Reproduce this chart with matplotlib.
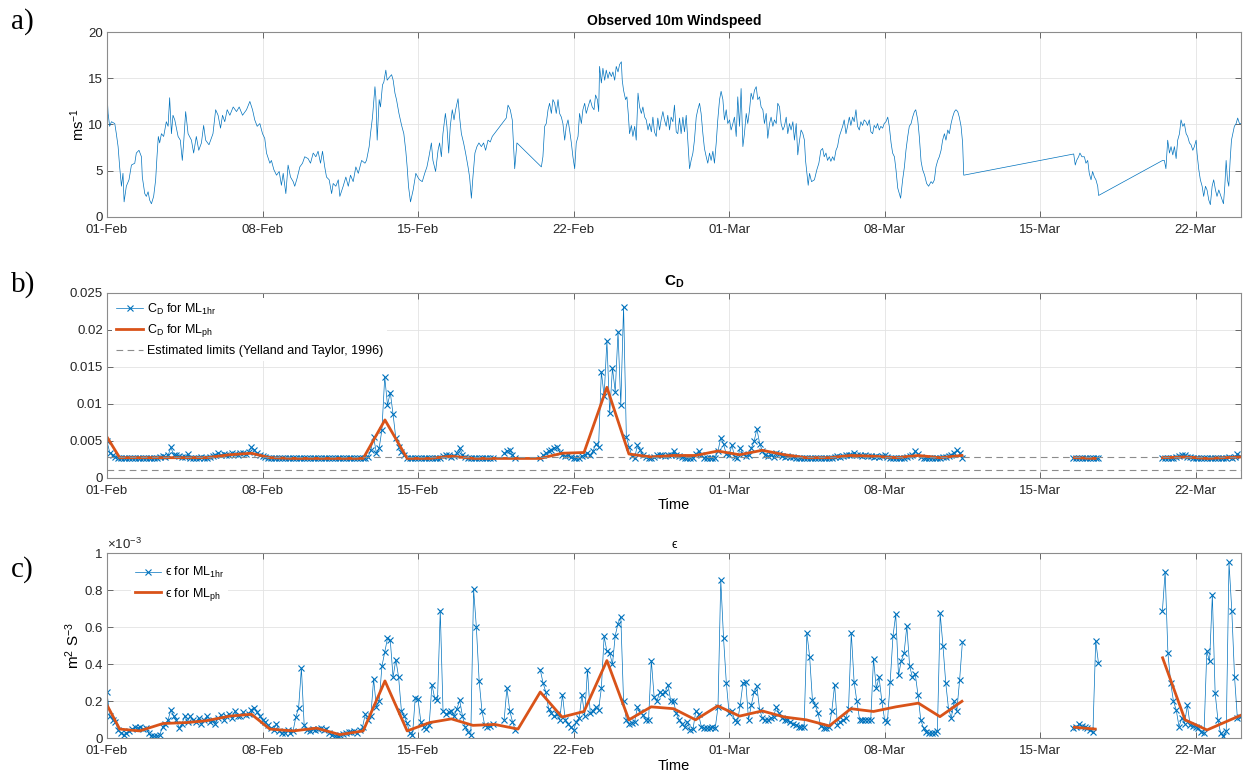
import numpy as np
import matplotlib.pyplot as plt
from matplotlib.ticker import FuncFormatter

plt.rcParams['font.family'] = ['Liberation Sans', 'DejaVu Sans']
plt.rcParams['mathtext.fontset'] = 'custom'
plt.rcParams['mathtext.rm'] = 'Liberation Sans'
plt.rcParams['mathtext.it'] = 'Liberation Sans:italic'
plt.rcParams['mathtext.bf'] = 'Liberation Sans:bold'

# x axis is days since 01-Feb
tick_days = [0, 7, 14, 21, 28, 35, 42, 49]
tick_names = ['01-Feb', '08-Feb', '15-Feb', '22-Feb', '01-Mar', '08-Mar', '15-Mar', '22-Mar']

# observed 10 m windspeed (m/s)
ws_day = [0.00, 0.05, 0.12, 0.20, 0.35, 0.42, 0.50, 0.57, 0.65, 0.72, 0.77, 0.87, 0.99, 1.10, 1.25, 1.32, 1.44, 1.55, 1.59, 1.70,
          1.77, 1.85, 1.92, 2.00, 2.10, 2.19, 2.25, 2.31, 2.37, 2.45, 2.55, 2.67, 2.75, 2.82, 2.90, 2.97, 3.05, 3.20, 3.30, 3.39,
          3.45, 3.54, 3.65, 3.80, 3.90, 4.02, 4.13, 4.25, 4.35, 4.44, 4.59, 4.77, 4.89, 5.00, 5.11, 5.20, 5.30, 5.41, 5.53, 5.68,
          5.83, 5.95, 6.10, 6.28, 6.43, 6.55, 6.65, 6.76, 6.88, 7.00, 7.10, 7.18, 7.33, 7.40, 7.51, 7.63, 7.75, 7.85, 7.93, 8.05,
          8.15, 8.26, 8.38, 8.45, 8.56, 8.68, 8.80, 8.90, 9.05, 9.16, 9.28, 9.40, 9.50, 9.61, 9.70, 9.80, 9.88, 10.00, 10.11, 10.18,
          10.30, 10.41, 10.48, 10.63, 10.75, 10.86, 10.96, 11.08, 11.20, 11.31, 11.46, 11.61, 11.68, 11.80, 11.86, 11.95, 12.06, 12.10, 12.16, 12.25,
          12.31, 12.40, 12.46, 12.55, 12.61, 12.70, 12.81, 12.88, 12.96, 13.03, 13.14, 13.26, 13.36, 13.45, 13.51, 13.57, 13.66, 13.78, 13.90, 14.01,
          14.07, 14.19, 14.30, 14.40, 14.49, 14.60, 14.67, 14.79, 14.90, 14.97, 15.05, 15.12, 15.23, 15.30, 15.38, 15.45, 15.54, 15.62, 15.69, 15.80,
          15.87, 15.95, 16.05, 16.14, 16.25, 16.32, 16.40, 16.47, 16.56, 16.65, 16.74, 16.85, 16.95, 17.04, 17.15, 17.25, 17.34, 17.97, 18.05, 18.15,
          18.24, 18.35, 18.45, 19.55, 19.62, 19.70, 19.77, 19.85, 19.92, 20.00, 20.07, 20.15, 20.22, 20.30, 20.37, 20.45, 20.52, 20.60, 20.67, 20.75,
          20.82, 20.90, 20.97, 21.05, 21.12, 21.20, 21.27, 21.35, 21.42, 21.50, 21.57, 21.65, 21.75, 21.84, 21.92, 21.99, 22.07, 22.13, 22.17, 22.25,
          22.32, 22.40, 22.47, 22.55, 22.62, 22.70, 22.77, 22.85, 22.92, 23.00, 23.07, 23.15, 23.19, 23.25, 23.34, 23.40, 23.46, 23.52, 23.60, 23.67,
          23.75, 23.82, 23.90, 23.97, 24.05, 24.12, 24.20, 24.27, 24.35, 24.42, 24.50, 24.57, 24.64, 24.72, 24.79, 24.87, 24.94, 25.02, 25.09, 25.17,
          25.24, 25.32, 25.39, 25.47, 25.54, 25.62, 25.69, 25.77, 25.84, 25.92, 25.99, 26.07, 26.14, 26.22, 26.29, 26.37, 26.44, 26.52, 26.59, 26.67,
          26.74, 26.82, 26.89, 26.97, 27.04, 27.12, 27.19, 27.27, 27.34, 27.42, 27.49, 27.57, 27.64, 27.72, 27.79, 27.87, 27.94, 28.02, 28.09, 28.17,
          28.24, 28.32, 28.39, 28.47, 28.54, 28.62, 28.69, 28.77, 28.84, 28.92, 28.99, 29.07, 29.14, 29.22, 29.29, 29.37, 29.44, 29.52, 29.59, 29.67,
          29.74, 29.82, 29.89, 29.97, 30.04, 30.12, 30.19, 30.27, 30.34, 30.42, 30.49, 30.57, 30.64, 30.72, 30.79, 30.87, 30.94, 31.02, 31.09, 31.17,
          31.24, 31.32, 31.39, 31.44, 31.50, 31.56, 31.62, 31.71, 31.84, 31.95, 32.04, 32.13, 32.21, 32.28, 32.36, 32.43, 32.51, 32.58, 32.66, 32.73,
          32.81, 32.88, 32.96, 33.03, 33.11, 33.18, 33.26, 33.33, 33.41, 33.48, 33.56, 33.63, 33.71, 33.78, 33.86, 33.93, 34.01, 34.08, 34.16, 34.23,
          34.31, 34.38, 34.46, 34.53, 34.61, 34.68, 34.76, 34.83, 34.91, 34.98, 35.06, 35.14, 35.21, 35.29, 35.36, 35.44, 35.51, 35.59, 35.66, 35.72,
          35.81, 35.89, 35.96, 36.04, 36.11, 36.19, 36.26, 36.34, 36.40, 36.49, 36.56, 36.64, 36.71, 36.80, 36.89, 36.98, 37.09, 37.16, 37.24, 37.31,
          37.39, 37.46, 37.54, 37.61, 37.69, 37.76, 37.84, 37.91, 37.99, 38.06, 38.14, 38.21, 38.29, 38.36, 38.44, 38.51, 38.56, 43.51, 43.58, 43.64,
          43.73, 43.79, 43.88, 43.99, 44.06, 44.14, 44.21, 44.29, 44.36, 44.44, 44.51, 44.59, 44.63, 47.51, 47.59, 47.66, 47.74, 47.82, 47.89, 47.97,
          48.04, 48.12, 48.19, 48.27, 48.34, 48.42, 48.49, 48.57, 48.64, 48.72, 48.79, 48.87, 48.94, 49.02, 49.06, 49.14, 49.21, 49.29, 49.36, 49.44,
          49.51, 49.59, 49.66, 49.74, 49.81, 49.89, 49.96, 50.04, 50.11, 50.19, 50.25, 50.31, 50.37, 50.43, 50.49, 50.55, 50.61, 50.67, 50.74, 50.82,
          50.89, 50.97, 51.04]
ws_speed = [13.4, 11.2, 9.8, 10.3, 10.1, 9.0, 7.6, 5.4, 3.3, 4.7, 1.6, 3.3, 4.0, 5.6, 5.8, 6.9, 7.2, 6.5, 4.3, 2.5,
            2.2, 2.7, 1.8, 1.4, 2.2, 4.0, 6.5, 8.7, 8.0, 9.0, 8.7, 10.3, 9.8, 12.9, 9.0, 11.0, 10.5, 8.7, 8.3, 6.1,
            8.0, 11.4, 9.0, 8.3, 6.9, 8.7, 7.2, 8.0, 9.9, 8.3, 7.8, 9.0, 11.6, 11.0, 9.6, 11.0, 10.3, 11.6, 11.0, 11.9,
            11.4, 11.9, 11.0, 11.6, 12.5, 11.6, 10.5, 9.8, 10.1, 9.0, 8.5, 6.9, 5.8, 6.1, 5.1, 4.5, 4.9, 3.4, 4.7, 2.5,
            5.6, 4.3, 3.8, 3.3, 4.2, 5.4, 5.8, 6.5, 6.3, 5.8, 6.9, 6.5, 7.1, 5.8, 7.1, 5.4, 4.3, 4.0, 2.5, 3.6,
            3.3, 4.0, 2.2, 3.3, 4.3, 3.3, 4.5, 3.8, 5.4, 4.7, 6.1, 5.8, 6.1, 7.6, 9.0, 10.8, 14.1, 13.0, 8.3, 12.7,
            11.9, 14.3, 14.6, 15.9, 14.8, 15.1, 15.4, 14.8, 13.4, 12.7, 11.2, 9.9, 9.0, 7.1, 5.4, 3.3, 1.6, 2.9, 4.7, 4.2,
            4.0, 3.8, 4.7, 5.4, 6.5, 8.0, 6.1, 4.9, 7.2, 8.0, 6.5, 9.0, 11.2, 9.8, 6.9, 9.8, 11.6, 10.5, 11.6, 12.8,
            10.8, 9.0, 8.0, 6.9, 5.4, 4.3, 2.0, 4.3, 6.9, 7.6, 8.0, 7.6, 8.0, 7.2, 8.3, 8.1, 8.7, 10.7, 12.1, 11.6,
            10.5, 5.2, 8.0, 5.4, 6.5, 9.8, 10.1, 11.6, 12.3, 11.2, 12.7, 12.3, 11.2, 12.7, 11.2, 10.8, 10.1, 8.3, 9.8, 10.5,
            9.4, 8.0, 6.5, 5.2, 8.0, 8.7, 11.2, 10.1, 11.6, 12.3, 11.2, 11.9, 12.7, 11.9, 11.6, 13.2, 12.7, 11.4, 16.3, 14.5,
            16.1, 14.8, 15.9, 15.0, 15.7, 15.2, 15.7, 14.8, 16.3, 15.7, 16.5, 16.8, 14.8, 13.7, 12.7, 13.0, 11.2, 9.0, 9.9, 8.7,
            9.8, 8.3, 13.4, 11.9, 11.2, 11.9, 10.8, 10.5, 9.4, 10.1, 9.2, 10.8, 9.2, 8.7, 10.7, 9.4, 10.5, 11.4, 10.5, 9.8,
            11.0, 9.4, 10.8, 10.3, 12.1, 9.2, 9.0, 10.7, 9.0, 10.8, 9.2, 11.0, 8.3, 5.2, 6.1, 6.9, 8.3, 10.8, 11.6, 12.3,
            11.2, 9.0, 7.4, 6.5, 5.8, 6.9, 6.1, 7.1, 5.8, 8.0, 10.5, 12.7, 13.6, 12.7, 10.5, 11.6, 10.1, 10.5, 9.4, 10.1,
            10.8, 8.7, 13.0, 9.8, 13.9, 7.6, 9.0, 11.2, 10.1, 11.6, 13.4, 12.7, 13.7, 14.1, 12.7, 13.0, 11.9, 11.6, 10.1, 11.2,
            8.5, 10.1, 10.8, 9.8, 10.5, 10.1, 12.3, 11.9, 10.1, 9.4, 9.8, 10.8, 9.0, 10.1, 9.4, 10.3, 8.3, 10.1, 6.7, 8.3,
            9.4, 9.0, 8.3, 6.1, 4.7, 3.4, 4.7, 3.8, 4.0, 5.1, 5.8, 7.2, 7.4, 6.5, 6.9, 6.1, 6.5, 6.0, 6.5, 6.1,
            7.2, 7.6, 8.7, 9.2, 9.8, 10.5, 9.0, 9.8, 10.8, 9.9, 10.8, 10.3, 11.6, 9.8, 9.4, 10.3, 9.9, 10.5, 10.3, 9.9,
            10.5, 9.2, 9.0, 9.9, 9.6, 10.1, 9.4, 9.8, 9.6, 10.1, 10.3, 10.8, 9.8, 8.0, 6.9, 6.5, 5.1, 3.1, 2.5, 2.0,
            4.0, 5.4, 7.2, 8.7, 9.8, 10.1, 10.8, 11.4, 11.6, 10.5, 8.7, 6.0, 5.1, 4.5, 3.6, 3.3, 3.8, 3.6, 4.0, 5.4,
            6.1, 6.5, 7.2, 8.3, 9.0, 8.3, 9.4, 9.0, 10.1, 10.8, 11.4, 11.6, 11.4, 10.8, 9.8, 8.0, 4.5, 6.8, 5.6, 6.1,
            6.5, 6.9, 6.5, 6.5, 5.8, 6.1, 4.7, 4.0, 4.9, 4.3, 4.0, 3.3, 2.3, 6.1, 6.1, 5.2, 8.3, 6.9, 7.6, 6.7,
            7.6, 6.3, 8.3, 9.0, 10.5, 9.8, 10.1, 9.0, 8.7, 8.0, 7.8, 7.2, 7.6, 8.3, 6.9, 5.1, 4.0, 3.3, 2.2, 3.3,
            2.9, 1.8, 1.3, 3.3, 4.0, 2.9, 2.2, 2.9, 2.4, 1.8, 1.4, 3.3, 6.1, 4.0, 3.3, 6.1, 8.3, 9.0, 9.8, 10.1,
            10.7, 10.1, 10.1]

# 1-hourly-ML products, read every 3 h; one list per block of available data
block_start = [0.0, 17.875, 19.5, 43.5, 47.5]
cd_1hr = [
    [0.0049, 0.0034, 0.0030, 0.0028, 0.0027, 0.0027, 0.0026, 0.0027,
     0.0027, 0.0026, 0.0027, 0.0027, 0.0026, 0.0027, 0.0027, 0.0026,
     0.0027, 0.0026, 0.0027, 0.0028, 0.0029, 0.0028, 0.0030, 0.0041,
     0.0031, 0.0030, 0.0029, 0.0028, 0.0028, 0.0032, 0.0027, 0.0027,
     0.0027, 0.0027, 0.0028, 0.0027, 0.0027, 0.0028, 0.0029, 0.0030,
     0.0033, 0.0031, 0.0032, 0.0030, 0.0031, 0.0033, 0.0032, 0.0031,
     0.0033, 0.0034, 0.0032, 0.0035, 0.0041, 0.0038, 0.0033, 0.0030,
     0.0029, 0.0028, 0.0027, 0.0027, 0.0027, 0.0026, 0.0027, 0.0027,
     0.0027, 0.0027, 0.0026, 0.0027, 0.0027, 0.0027, 0.0026, 0.0027,
     0.0027, 0.0026, 0.0027, 0.0027, 0.0026, 0.0027, 0.0027, 0.0027,
     0.0026, 0.0027, 0.0027, 0.0026, 0.0027, 0.0027, 0.0027, 0.0026,
     0.0027, 0.0027, 0.0026, 0.0027, 0.0027, 0.0027, 0.0028, 0.0037,
     0.0055, 0.0033, 0.0040, 0.0065, 0.0136, 0.0098, 0.0115, 0.0086,
     0.0053, 0.0042, 0.0035, 0.0031, 0.0027, 0.0027, 0.0026, 0.0027,
     0.0027, 0.0026, 0.0027, 0.0027, 0.0026, 0.0027, 0.0027, 0.0027,
     0.0027, 0.0029, 0.0031, 0.0030, 0.0028, 0.0029, 0.0034, 0.0040,
     0.0031, 0.0028, 0.0027, 0.0026, 0.0027, 0.0027, 0.0026, 0.0027,
     0.0027, 0.0026, 0.0027, 0.0026],
    [0.0033, 0.0036, 0.0038, 0.0031, 0.0027],
    [0.0027, 0.0030, 0.0033, 0.0036,
     0.0038, 0.0040, 0.0042, 0.0035, 0.0031, 0.0029, 0.0030, 0.0028,
     0.0026, 0.0026, 0.0027, 0.0029, 0.0031, 0.0033, 0.0030, 0.0036,
     0.0045, 0.0042, 0.0143, 0.0110, 0.0185, 0.0087, 0.0148, 0.0116,
     0.0197, 0.0098, 0.0231, 0.0055, 0.0042, 0.0029, 0.0027, 0.0044,
     0.0038, 0.0030, 0.0028, 0.0027, 0.0027, 0.0028, 0.0030, 0.0031,
     0.0030, 0.0029, 0.0031, 0.0030, 0.0036, 0.0031, 0.0029, 0.0028,
     0.0027, 0.0027, 0.0026, 0.0027, 0.0032, 0.0036, 0.0030, 0.0027,
     0.0026, 0.0026, 0.0026, 0.0027, 0.0036, 0.0054, 0.0045, 0.0032,
     0.0030, 0.0044, 0.0028, 0.0026, 0.0040, 0.0032, 0.0029, 0.0030,
     0.0040, 0.0049, 0.0066, 0.0046, 0.0036, 0.0031, 0.0029, 0.0030,
     0.0028, 0.0034, 0.0032, 0.0029, 0.0028, 0.0029, 0.0028, 0.0028,
     0.0027, 0.0027, 0.0026, 0.0027, 0.0026, 0.0027, 0.0027, 0.0026,
     0.0027, 0.0027, 0.0026, 0.0027, 0.0026, 0.0027, 0.0028, 0.0029,
     0.0028, 0.0029, 0.0030, 0.0031, 0.0030, 0.0034, 0.0031, 0.0030,
     0.0029, 0.0030, 0.0029, 0.0029, 0.0028, 0.0029, 0.0028, 0.0029,
     0.0030, 0.0028, 0.0027, 0.0026, 0.0026, 0.0026, 0.0027, 0.0027,
     0.0028, 0.0029, 0.0031, 0.0036, 0.0032, 0.0028, 0.0027, 0.0026,
     0.0026, 0.0026, 0.0027, 0.0027, 0.0027, 0.0028, 0.0028, 0.0029,
     0.0030, 0.0034, 0.0037, 0.0033, 0.0027],
    [0.0027, 0.0026, 0.0027, 0.0027, 0.0026, 0.0027, 0.0027, 0.0026, 0.0027, 0.0026],
    [0.0027, 0.0027, 0.0026, 0.0027,
     0.0027, 0.0028, 0.0029, 0.0031, 0.0030, 0.0028, 0.0028, 0.0027,
     0.0027, 0.0026, 0.0027, 0.0026, 0.0027, 0.0026, 0.0027, 0.0026,
     0.0027, 0.0026, 0.0027, 0.0027, 0.0028, 0.0027, 0.0028, 0.0032,
     0.0029],
]
# epsilon in units of 1e-3 m2 s-3
eps_1hr = [
    [0.25, 0.12, 0.10, 0.09, 0.045, 0.03, 0.02, 0.03,
     0.04, 0.05, 0.06, 0.055, 0.063, 0.05, 0.055, 0.03,
     0.015, 0.01, 0.012, 0.02, 0.06, 0.08, 0.10, 0.155,
     0.12, 0.10, 0.055, 0.08, 0.12, 0.09, 0.12, 0.10,
     0.09, 0.11, 0.08, 0.10, 0.12, 0.09, 0.10, 0.08,
     0.11, 0.125, 0.10, 0.12, 0.13, 0.11, 0.145, 0.12,
     0.12, 0.14, 0.125, 0.13, 0.155, 0.165, 0.14, 0.12,
     0.10, 0.09, 0.07, 0.055, 0.045, 0.08, 0.04, 0.03,
     0.03, 0.045, 0.03, 0.04, 0.115, 0.165, 0.38, 0.07,
     0.045, 0.04, 0.05, 0.045, 0.05, 0.055, 0.045, 0.05,
     0.03, 0.02, 0.015, 0.01, 0.02, 0.025, 0.03, 0.035,
     0.035, 0.04, 0.03, 0.045, 0.06, 0.13, 0.10, 0.12,
     0.32, 0.17, 0.20, 0.39, 0.465, 0.54, 0.53, 0.33,
     0.425, 0.33, 0.15, 0.12, 0.085, 0.03, 0.018, 0.22,
     0.21, 0.09, 0.06, 0.05, 0.07, 0.29, 0.216, 0.205,
     0.69, 0.145, 0.13, 0.14, 0.145, 0.12, 0.16, 0.205,
     0.12, 0.06, 0.035, 0.02, 0.805, 0.6, 0.31, 0.15,
     0.07, 0.063, 0.065, 0.075],
    [0.10, 0.27, 0.15, 0.09, 0.045],
    [0.37, 0.30, 0.25, 0.16,
     0.135, 0.12, 0.13, 0.10, 0.235, 0.10, 0.08, 0.06,
     0.045, 0.09, 0.11, 0.235, 0.12, 0.37, 0.135, 0.15,
     0.17, 0.155, 0.27, 0.55, 0.47, 0.46, 0.40, 0.555,
     0.62, 0.657, 0.2, 0.1, 0.08, 0.085, 0.09, 0.17,
     0.14, 0.125, 0.10, 0.10, 0.42, 0.225, 0.2, 0.25,
     0.24, 0.25, 0.29, 0.2, 0.2, 0.135, 0.1, 0.08,
     0.06, 0.09, 0.045, 0.05, 0.145, 0.13, 0.063, 0.055,
     0.055, 0.055, 0.063, 0.055, 0.17, 0.855, 0.54, 0.30,
     0.135, 0.145, 0.10, 0.09, 0.18, 0.30, 0.305, 0.10,
     0.18, 0.25, 0.28, 0.153, 0.11, 0.10, 0.10, 0.11,
     0.117, 0.17, 0.135, 0.11, 0.10, 0.10, 0.09, 0.08,
     0.072, 0.063, 0.06, 0.063, 0.57, 0.44, 0.207, 0.18,
     0.135, 0.065, 0.055, 0.055, 0.06, 0.15, 0.29, 0.07,
     0.09, 0.10, 0.108, 0.16, 0.57, 0.305, 0.2, 0.10,
     0.10, 0.10, 0.10, 0.10, 0.43, 0.27, 0.33, 0.2,
     0.10, 0.09, 0.305, 0.55, 0.67, 0.34, 0.42, 0.46,
     0.607, 0.39, 0.33, 0.35, 0.235, 0.10, 0.055, 0.036,
     0.027, 0.027, 0.030, 0.04, 0.675, 0.5, 0.3, 0.16,
     0.11, 0.2, 0.15, 0.315, 0.52],
    [0.055, 0.060, 0.077, 0.065, 0.060, 0.055, 0.045, 0.035, 0.528, 0.405],
    [0.685, 0.90, 0.46, 0.30,
     0.2, 0.153, 0.063, 0.11, 0.08, 0.18, 0.07, 0.065,
     0.063, 0.055, 0.036, 0.027, 0.47, 0.415, 0.775, 0.245,
     0.10, 0.027, 0.01, 0.04, 0.95, 0.69, 0.33, 0.11,
     0.117],
]

# per-half-tide (ph) results
ph_day = [0.0, 0.57, 1.47, 2.52, 3.57, 4.47, 5.53, 6.50, 7.33, 8.38, 9.43, 10.48, 11.53, 12.51, 13.51,
          14.52, 15.50, 16.47, 17.45, 18.50, 19.50, 20.48, 21.47, 22.50, 23.49, 24.49, 25.50, 26.49, 27.49,
          28.47, 29.49, 30.49, 31.47, 32.51, 33.48, 34.50, 35.51, 36.52, 37.49, 38.48, np.nan,
          43.54, 44.48, np.nan, 47.51, 48.52, 49.51, 51.04]
cd_ph = [0.0055, 0.0027, 0.0027, 0.0027, 0.0027, 0.0027, 0.0031, 0.0033, 0.0027, 0.0026, 0.0026, 0.0026, 0.0026, 0.0078, 0.0026,
         0.0026, 0.0029, 0.0026, 0.0026, 0.0026, 0.0026, 0.0033, 0.0034, 0.0122, 0.0032, 0.0028, 0.0030, 0.0030, 0.0036,
         0.0031, 0.0037, 0.0031, 0.0027, 0.0027, 0.0030, 0.0029, 0.0027, 0.0030, 0.0027, 0.0030, np.nan,
         0.0027, 0.0026, np.nan, 0.0027, 0.0028, 0.0026, 0.0028]
eps_ph = [0.18, 0.05, 0.04, 0.08, 0.085, 0.095, 0.12, 0.13, 0.05, 0.04, 0.055, 0.02, 0.04, 0.31, 0.04,
          0.085, 0.105, 0.07, 0.075, 0.05, 0.25, 0.115, 0.145, 0.42, 0.10, 0.17, 0.16, 0.10, 0.175,
          0.12, 0.148, 0.115, 0.10, 0.067, 0.16, 0.145, 0.17, 0.19, 0.117, 0.20, np.nan,
          0.06, 0.05, np.nan, 0.435, 0.10, 0.045, 0.125]

cd_limits = [0.001, 0.00275]


def join_blocks(blocks):
    # 3-hourly samples, NaN between blocks so the line breaks at data gaps
    t, v = [], []
    for start, vals in zip(block_start, blocks):
        t += list(start + 0.125 * np.arange(len(vals))) + [np.nan]
        v += list(vals) + [np.nan]
    return np.array(t), np.array(v)


blue = '#0072BD'
orange = '#D95319'


def style(ax):
    ax.set_xlim(0, 51.04)
    ax.set_xticks(tick_days)
    ax.set_xticklabels(tick_names)
    ax.grid(True, color='#e3e3e3', lw=0.6)
    ax.set_axisbelow(True)
    ax.tick_params(direction='in', top=True, right=True, length=4, width=0.7,
                   color='#666666', labelsize=9.5, labelcolor='#262626', pad=3)
    ax.tick_params(axis='x', pad=5)
    for s in ax.spines.values():
        s.set_color('#8c8c8c')
        s.set_linewidth(0.8)


fig = plt.figure(figsize=(12.47, 7.78), dpi=100)
ax_a = fig.add_axes([0.0858, 0.7215, 0.9094, 0.237])
ax_b = fig.add_axes([0.0858, 0.386, 0.9094, 0.238])
ax_c = fig.add_axes([0.0858, 0.051, 0.9094, 0.238])

# a) windspeed
ax_a.plot(ws_day, ws_speed, color=blue, lw=0.5)
style(ax_a)
ax_a.set_ylim(0, 20)
ax_a.set_yticks([0, 5, 10, 15, 20])
ax_a.set_ylabel('ms$^{-1}$', fontsize=10.5, labelpad=1)
ax_a.set_title('Observed 10m Windspeed', fontsize=10, fontweight='bold', pad=5)

# b) drag coefficient
t_cd, v_cd = join_blocks(cd_1hr)
ax_b.plot(t_cd, v_cd, color=blue, lw=0.5, marker='x', ms=4, mew=0.8, label='C$_\\mathrm{D}$ for ML$_\\mathrm{1hr}$')
ax_b.plot(ph_day, cd_ph, color=orange, lw=2, label='C$_\\mathrm{D}$ for ML$_\\mathrm{ph}$')
for i, lim in enumerate(cd_limits):
    ax_b.axhline(lim, color='#8c8c8c', lw=0.8, ls=(0, (6, 4)),
                 label='Estimated limits (Yelland and Taylor, 1996)' if i == 0 else None)
style(ax_b)
ax_b.set_ylim(0, 0.025)
ax_b.set_yticks([0, 0.005, 0.01, 0.015, 0.02, 0.025])
ax_b.yaxis.set_major_formatter(FuncFormatter(lambda v, p: '%g' % v))
ax_b.set_xlabel('Time', fontsize=10.5, labelpad=1)
ax_b.set_title('C$_\\mathbf{D}$', fontsize=11, fontweight='bold', pad=5)
ax_b.legend(loc='upper left', bbox_to_anchor=(-0.001, 1.005), fontsize=9, frameon=True, framealpha=1,
            edgecolor='none', fancybox=False, handlelength=2.2, handletextpad=0.3, labelspacing=0.45,
            borderpad=0.3)

# c) dissipation
t_eps, v_eps = join_blocks(eps_1hr)
ax_c.plot(t_eps, v_eps, color=blue, lw=0.5, marker='x', ms=4, mew=0.8, label='\u03f5 for ML$_\\mathrm{1hr}$')
ax_c.plot(ph_day, eps_ph, color=orange, lw=2, label='\u03f5 for ML$_\\mathrm{ph}$')
style(ax_c)
ax_c.set_ylim(0, 1)
ax_c.set_yticks([0, 0.2, 0.4, 0.6, 0.8, 1])
ax_c.yaxis.set_major_formatter(FuncFormatter(lambda v, p: '%g' % v))
ax_c.text(0.0, 1.005, '$\\times$10$^{-3}$', transform=ax_c.transAxes, fontsize=9.5, color='#262626', va='bottom')
ax_c.set_ylabel('m$^2$ S$^{-3}$', fontsize=11, labelpad=2)
ax_c.set_xlabel('Time', fontsize=10.5, labelpad=1)
ax_c.set_title('\u03f5', fontsize=9, pad=4)
ax_c.legend(loc='upper left', bbox_to_anchor=(0.016, 0.99), fontsize=9, frameon=True, framealpha=1,
            edgecolor='none', fancybox=False, handlelength=2.1, handletextpad=0.3, labelspacing=0.45,
            borderpad=0.3)

# panel letters
for y, s in [(0.972, 'a)'), (0.634, 'b)'), (0.268, 'c)')]:
    fig.text(0.009, y, s, fontsize=21, family='Liberation Serif', va='center')

fig.savefig('out.png', dpi=100)
